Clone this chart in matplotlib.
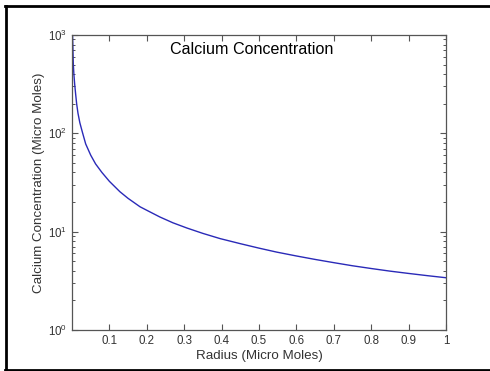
import matplotlib
matplotlib.use("Agg")
import matplotlib.pyplot as plt
from matplotlib.lines import Line2D

# Data
radius = [0.0015, 0.002, 0.0035, 0.005, 0.0071, 0.01, 0.0125, 0.016, 0.021, 0.028,
          0.0366, 0.05, 0.063, 0.08, 0.1, 0.128, 0.15, 0.182, 0.2, 0.235,
          0.27, 0.307, 0.35, 0.396, 0.45, 0.5, 0.547, 0.6, 0.65, 0.7,
          0.75, 0.8, 0.85, 0.9, 0.95, 1.0]
concentration = [1000, 850, 508, 400, 318, 245, 199, 160, 128, 102,
                 78, 60, 48.9, 40, 32.5, 25.5, 21.8, 17.9, 16.5, 14.1,
                 12.3, 10.9, 9.6, 8.5, 7.55, 6.8, 6.2, 5.66, 5.22, 4.84,
                 4.5, 4.22, 3.97, 3.76, 3.57, 3.4]

x_ticks = [0.1, 0.2, 0.3, 0.4, 0.5, 0.6, 0.7, 0.8, 0.9, 1]
x_tick_labels = ["0.1", "0.2", "0.3", "0.4", "0.5", "0.6", "0.7", "0.8", "0.9", "1"]
y_ticks = [1, 10, 100, 1000]
y_tick_labels = ["10$^0$", "10$^1$", "10$^2$", "10$^3$"]

title = "Calcium Concentration"
x_label = "Radius (Micro Moles)"
y_label = "Calcium Concentration (Micro Moles)"

plt.rcParams["font.family"] = ["Liberation Sans", "DejaVu Sans"]
plt.rcParams["mathtext.fontset"] = "custom"
plt.rcParams["mathtext.rm"] = "Liberation Sans"
plt.rcParams["mathtext.it"] = "Liberation Sans"

W, H = 490, 371
fig = plt.figure(figsize=(W / 100, H / 100), dpi=100)
fig.patch.set_facecolor("white")

ax = fig.add_axes([72 / W, 1 - 330 / H, (446 - 72) / W, (330 - 35) / H])
ax.plot(radius, concentration, color="#2a2ab8", linewidth=1.0)
ax.set_yscale("log")
ax.set_xlim(0, 1)
ax.set_ylim(1, 1000)

ax.set_xticks(x_ticks)
ax.set_xticklabels(x_tick_labels)
ax.set_yticks(y_ticks)
ax.set_yticklabels(y_tick_labels)

spine_col = "#555555"
for s in ax.spines.values():
    s.set_color(spine_col)
    s.set_linewidth(0.9)
ax.tick_params(which="both", direction="in", top=True, right=True,
               color=spine_col, labelcolor="#333333", labelsize=8.3)
ax.tick_params(which="major", length=4, width=0.8, pad=3.5)
ax.tick_params(which="minor", length=2.5, width=0.7)

ax.set_xlabel(x_label, fontsize=9.6, color="#333333", labelpad=2)
ax.set_ylabel(y_label, fontsize=9.6, color="#333333", labelpad=2)
ax.text(0.48, 713, title, ha="center", va="center", fontsize=11.6,
        color="black")

# outer frame (left, top, bottom)
frame_kw = dict(color="black", linewidth=2, transform=fig.transFigure)
fig.add_artist(Line2D([6 / W, 6 / W], [1 - 6 / H, 1 - 369.5 / H], **frame_kw))
fig.add_artist(Line2D([5 / W, 1], [1 - 6 / H, 1 - 6 / H], **frame_kw))
fig.add_artist(Line2D([5 / W, 1], [1 - 369.5 / H, 1 - 369.5 / H], **frame_kw))

fig.savefig("out.png", dpi=100)
